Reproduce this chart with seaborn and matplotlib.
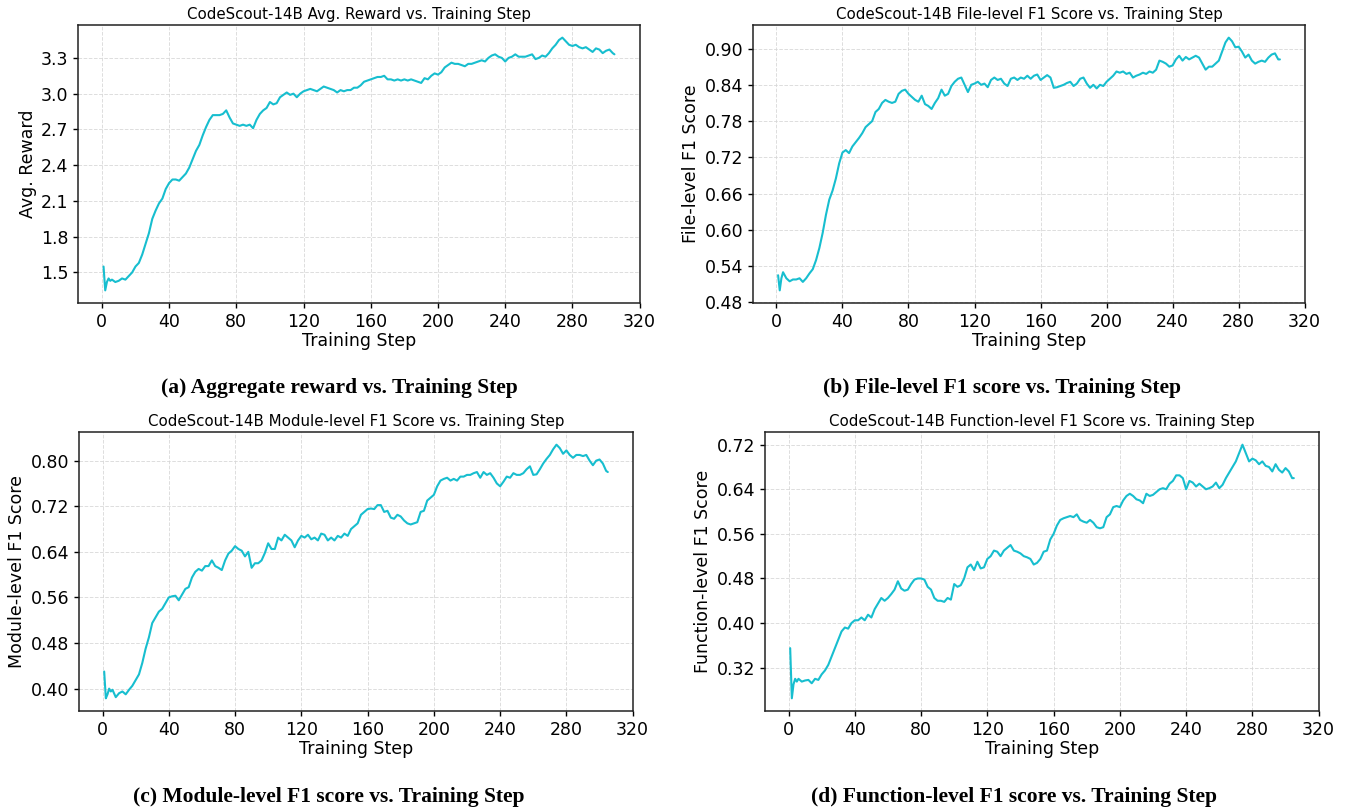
import pandas as pd
import matplotlib
matplotlib.use("Agg")
import matplotlib.pyplot as plt
from matplotlib.ticker import MultipleLocator
import seaborn as sns

steps = [1, 2, 3, 4, 5, 6] + list(range(8, 305, 2)) + [305]

avg_reward = [
    1.55, 1.35, 1.42, 1.45, 1.43, 1.44,
    1.42, 1.43, 1.45, 1.44, 1.47, 1.50, 1.55, 1.58, 1.65, 1.74,
    1.83, 1.95, 2.02, 2.08, 2.12, 2.20, 2.25, 2.28, 2.28, 2.27,
    2.30, 2.33, 2.38, 2.45, 2.52, 2.57, 2.65, 2.72, 2.78, 2.82,
    2.82, 2.82, 2.83, 2.86, 2.80, 2.75, 2.74, 2.73, 2.74, 2.73,
    2.74, 2.71, 2.78, 2.83, 2.86, 2.88, 2.93, 2.91, 2.92, 2.97,
    2.99, 3.01, 2.99, 3.00, 2.97, 3.00, 3.02, 3.03, 3.04, 3.03,
    3.02, 3.04, 3.06, 3.05, 3.04, 3.03, 3.01, 3.03, 3.02, 3.03,
    3.03, 3.05, 3.05, 3.07, 3.10, 3.11, 3.12, 3.13, 3.14, 3.14,
    3.15, 3.12, 3.12, 3.11, 3.12, 3.11, 3.12, 3.11, 3.12, 3.11,
    3.10, 3.09, 3.13, 3.12, 3.15, 3.17, 3.16, 3.18, 3.22, 3.24,
    3.26, 3.25, 3.25, 3.24, 3.23, 3.25, 3.25, 3.26, 3.27, 3.28,
    3.27, 3.30, 3.32, 3.33, 3.31, 3.30, 3.27, 3.30, 3.31, 3.33,
    3.31, 3.31, 3.31, 3.32, 3.33, 3.29, 3.30, 3.32, 3.31, 3.34,
    3.38, 3.41, 3.45, 3.47, 3.44, 3.41, 3.40, 3.41, 3.39, 3.38,
    3.39, 3.37, 3.35, 3.38, 3.37, 3.34, 3.36, 3.37, 3.34,
    3.33,
]

file_f1 = [
    0.525, 0.50, 0.52, 0.53, 0.525, 0.52,
    0.515, 0.518, 0.518, 0.52, 0.514, 0.52, 0.528, 0.535, 0.55, 0.57,
    0.595, 0.625, 0.65, 0.665, 0.685, 0.71, 0.728, 0.732, 0.727, 0.738,
    0.745, 0.752, 0.76, 0.77, 0.775, 0.78, 0.795, 0.80, 0.81, 0.815,
    0.812, 0.81, 0.812, 0.825, 0.83, 0.832, 0.825, 0.82, 0.815, 0.812,
    0.822, 0.808, 0.805, 0.80, 0.81, 0.818, 0.832, 0.822, 0.825, 0.838,
    0.845, 0.85, 0.852, 0.84, 0.828, 0.84, 0.842, 0.845, 0.84, 0.842,
    0.836, 0.848, 0.852, 0.848, 0.85, 0.842, 0.838, 0.85, 0.852, 0.848,
    0.852, 0.85, 0.855, 0.85, 0.855, 0.857, 0.848, 0.852, 0.856, 0.852,
    0.835, 0.836, 0.838, 0.84, 0.843, 0.845, 0.838, 0.842, 0.85, 0.852,
    0.842, 0.835, 0.84, 0.834, 0.84, 0.838, 0.845, 0.85, 0.855, 0.862,
    0.86, 0.862, 0.858, 0.86, 0.852, 0.855, 0.857, 0.86, 0.858, 0.862,
    0.86, 0.865, 0.88, 0.878, 0.875, 0.87, 0.872, 0.882, 0.888, 0.88,
    0.886, 0.882, 0.885, 0.888, 0.885, 0.875, 0.865, 0.87, 0.87, 0.875,
    0.88, 0.895, 0.91, 0.918, 0.912, 0.902, 0.903, 0.895, 0.885, 0.89,
    0.88, 0.875, 0.878, 0.88, 0.878, 0.885, 0.89, 0.892, 0.882,
    0.882,
]

module_f1 = [
    0.43, 0.383, 0.39, 0.40, 0.395, 0.398,
    0.385, 0.392, 0.395, 0.39, 0.398, 0.405, 0.415, 0.425, 0.445, 0.47,
    0.49, 0.515, 0.525, 0.535, 0.54, 0.55, 0.56, 0.562, 0.563, 0.555,
    0.565, 0.575, 0.578, 0.595, 0.605, 0.61, 0.607, 0.615, 0.615, 0.625,
    0.615, 0.612, 0.608, 0.625, 0.637, 0.642, 0.65, 0.645, 0.642, 0.632,
    0.64, 0.612, 0.62, 0.62, 0.625, 0.638, 0.655, 0.645, 0.645, 0.665,
    0.66, 0.67, 0.665, 0.66, 0.648, 0.66, 0.668, 0.665, 0.67, 0.662,
    0.665, 0.66, 0.672, 0.67, 0.66, 0.665, 0.66, 0.668, 0.665, 0.672,
    0.668, 0.68, 0.685, 0.69, 0.705, 0.71, 0.715, 0.716, 0.715, 0.722,
    0.722, 0.71, 0.712, 0.70, 0.698, 0.705, 0.702, 0.695, 0.69, 0.688,
    0.69, 0.692, 0.71, 0.712, 0.73, 0.735, 0.74, 0.755, 0.765, 0.768,
    0.77, 0.765, 0.768, 0.765, 0.772, 0.772, 0.775, 0.775, 0.778, 0.78,
    0.77, 0.78, 0.775, 0.778, 0.77, 0.76, 0.755, 0.763, 0.772, 0.77,
    0.778, 0.775, 0.775, 0.778, 0.785, 0.79, 0.775, 0.776, 0.785, 0.795,
    0.803, 0.81, 0.82, 0.828, 0.822, 0.812, 0.818, 0.81, 0.805, 0.81,
    0.81, 0.808, 0.81, 0.80, 0.792, 0.80, 0.802, 0.795, 0.782,
    0.78,
]

function_f1 = [
    0.355, 0.265, 0.29, 0.30, 0.295, 0.30,
    0.295, 0.297, 0.298, 0.292, 0.30, 0.298, 0.308, 0.315, 0.325, 0.34,
    0.355, 0.37, 0.385, 0.392, 0.39, 0.40, 0.405, 0.405, 0.41, 0.405,
    0.415, 0.41, 0.425, 0.435, 0.445, 0.44, 0.445, 0.452, 0.46, 0.475,
    0.462, 0.458, 0.46, 0.47, 0.478, 0.48, 0.48, 0.478, 0.465, 0.46,
    0.445, 0.44, 0.44, 0.438, 0.445, 0.442, 0.47, 0.465, 0.468, 0.48,
    0.50, 0.505, 0.495, 0.51, 0.498, 0.50, 0.515, 0.52, 0.53, 0.528,
    0.52, 0.53, 0.535, 0.54, 0.53, 0.528, 0.525, 0.52, 0.518, 0.515,
    0.505, 0.508, 0.515, 0.528, 0.53, 0.55, 0.56, 0.575, 0.585, 0.588,
    0.59, 0.592, 0.59, 0.595, 0.585, 0.582, 0.58, 0.585, 0.58, 0.572,
    0.57, 0.572, 0.59, 0.595, 0.608, 0.61, 0.608, 0.62, 0.628, 0.632,
    0.628, 0.622, 0.62, 0.615, 0.632, 0.628, 0.63, 0.635, 0.64, 0.642,
    0.64, 0.65, 0.655, 0.665, 0.665, 0.66, 0.64, 0.655, 0.652, 0.645,
    0.65, 0.645, 0.64, 0.642, 0.645, 0.652, 0.642, 0.648, 0.66, 0.67,
    0.68, 0.69, 0.705, 0.72, 0.705, 0.69, 0.695, 0.692, 0.685, 0.69,
    0.682, 0.68, 0.672, 0.685, 0.675, 0.67, 0.678, 0.672, 0.66,
    0.66,
]

titles = [
    "CodeScout-14B Avg. Reward vs. Training Step",
    "CodeScout-14B File-level F1 Score vs. Training Step",
    "CodeScout-14B Module-level F1 Score vs. Training Step",
    "CodeScout-14B Function-level F1 Score vs. Training Step",
]
ylabels = ["Avg. Reward", "File-level F1 Score", "Module-level F1 Score", "Function-level F1 Score"]
captions = [
    "(a) Aggregate reward vs. Training Step",
    "(b) File-level F1 score vs. Training Step",
    "(c) Module-level F1 score vs. Training Step",
    "(d) Function-level F1 score vs. Training Step",
]
series = [avg_reward, file_f1, module_f1, function_f1]
ytick_steps = [0.3, 0.06, 0.08, 0.08]

sns.set_style("white")
plt.rcParams['font.family'] = ['DejaVu Sans']
plt.rcParams['text.color'] = 'black'
plt.rcParams['axes.labelcolor'] = 'black'
plt.rcParams['xtick.color'] = 'black'
plt.rcParams['ytick.color'] = 'black'

W, H = 1346, 810
fig = plt.figure(figsize=(W / 100, H / 100), dpi=100)

# axes boxes in pixels: left, top, right, bottom
boxes = [(78, 25, 640, 303), (753, 25, 1305, 303), (79, 432, 633, 711), (765, 432, 1319, 711)]
caption_pos = [(339, 388), (1002, 388), (329, 797), (1014, 797)]

for i in range(4):
    l, t, r, b = boxes[i]
    ax = fig.add_axes([l / W, 1 - b / H, (r - l) / W, (b - t) / H])
    df = pd.DataFrame({"step": steps, "value": series[i]})
    sns.lineplot(data=df, x="step", y="value", ax=ax, color="#17becf", linewidth=1.5)
    ax.set_title(titles[i], fontsize=10.8, pad=4, color="black")
    ax.set_xlabel("Training Step", fontsize=12.5, labelpad=1)
    ax.set_ylabel(ylabels[i], fontsize=12.5, labelpad=3)
    ax.xaxis.set_major_locator(MultipleLocator(40))
    ax.yaxis.set_major_locator(MultipleLocator(ytick_steps[i]))
    ax.tick_params(axis="both", labelsize=12.5, length=3.5, width=1, left=True, bottom=True,
                   color="black", labelcolor="black")
    ax.grid(True, linestyle="--", color="#d5d5d5", linewidth=0.7, alpha=0.8)
    for s in ax.spines.values():
        s.set_color("#222222")
        s.set_linewidth(1.1)
    if i == 0:
        ax.yaxis.set_major_formatter(plt.FormatStrFormatter("%.1f"))
    else:
        ax.yaxis.set_major_formatter(plt.FormatStrFormatter("%.2f"))
    cx, cy = caption_pos[i]
    fig.text(cx / W, 1 - cy / H, captions[i], ha="center", va="center", color="black",
             fontsize=15.5, fontweight="bold", family=["Liberation Serif", "DejaVu Serif"])

fig.savefig("out.png", dpi=100)
